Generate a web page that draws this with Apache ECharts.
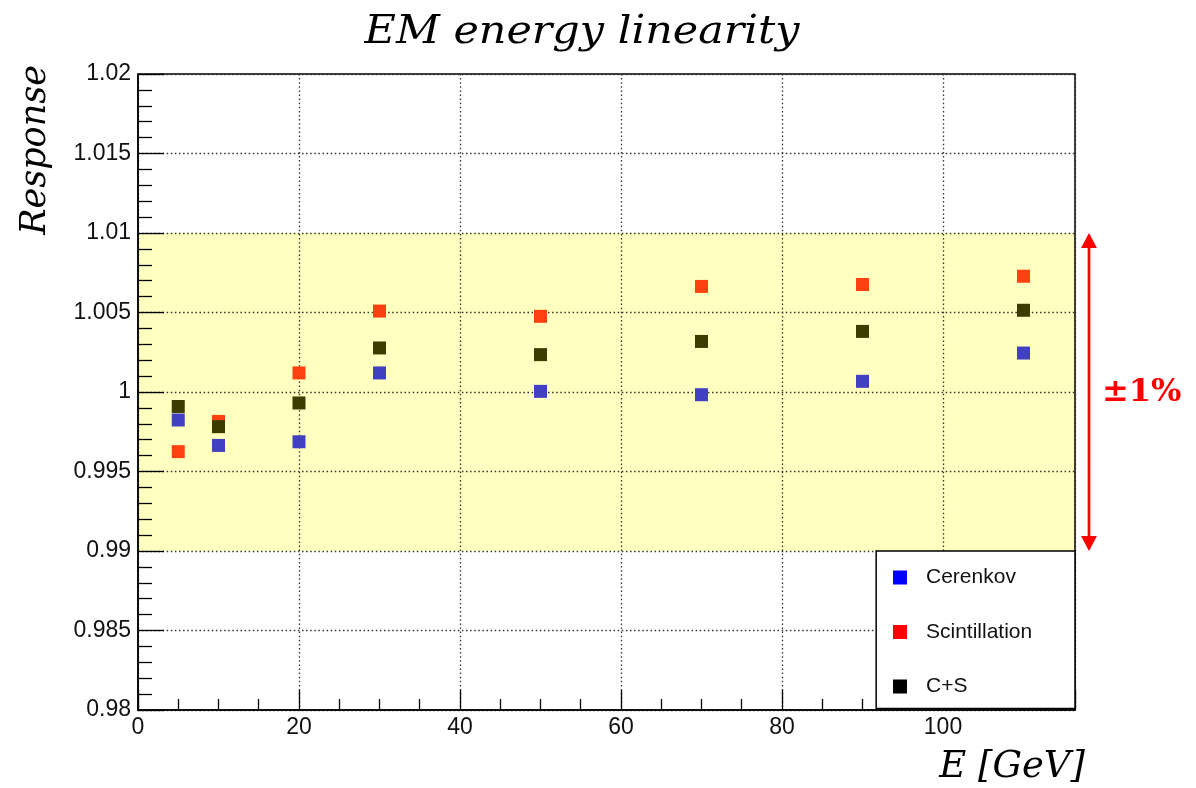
<!DOCTYPE html>
<html><head><meta charset="utf-8">
<script src="https://cdn.jsdelivr.net/npm/echarts@6/dist/echarts.min.js"></script>
<style>html,body{margin:0;padding:0;background:#fff}#c{width:1196px;height:788px}</style>
</head><body><div id="c"></div>
<script>
// ---- data ----
const energies = [5, 10, 20, 30, 50, 70, 90, 110];
const cerenkov = [0.99824, 0.99664, 0.99687, 1.00120, 1.00004, 0.99983, 1.00067, 1.00245];
const scintillation = [0.99625, 0.99815, 1.00120, 1.00509, 1.00476, 1.00664, 1.00676, 1.00728];
const combined = [0.99909, 0.99782, 0.99931, 1.00277, 1.00235, 1.00318, 1.00381, 1.00514];
const seriesNames = ['Cerenkov', 'Scintillation', 'C+S'];
const bandRange = [0.99, 1.01];
const bandLabel = '\u00B11%';
const titleText = 'EM energy linearity';
const yName = 'Response';
const xName = 'E [GeV]';
const xRange = [0, 116.4];
const yRange = [0.98, 1.02];

// ---- styles ----
const markerColors = ['#4040c0', '#ff4010', '#3c3c00'];
const legendColors = ['#0000ff', '#ff0000', '#000000'];
const sansFont = 'Liberation Sans';
const serifFont = 'DejaVu Serif';

const zip = (xs, ys) => xs.map((x, i) => [x, ys[i]]);
const chart = echarts.init(document.getElementById('c'), null, {renderer: 'canvas'});

const gridLine = {show: true, lineStyle: {color: '#333', width: 1.3, type: [1.5, 2.6]}};

chart.setOption({
  animation: false,
  backgroundColor: '#fff',
  grid: {left: 138, right: 121, top: 74, bottom: 78, show: true, borderColor: '#000', borderWidth: 1.5, backgroundColor: 'transparent'},
  xAxis: {
    type: 'value', min: xRange[0], max: xRange[1], interval: 20,
    axisLine: {show: true, lineStyle: {color: '#000', width: 1.5}},
    axisTick: {show: true, inside: true, length: 20, lineStyle: {color: '#000', width: 1.3}},
    minorTick: {show: true, splitNumber: 4, length: 11, lineStyle: {color: '#000', width: 1.3}},
    splitLine: gridLine,
    axisLabel: {color: '#111', fontFamily: sansFont, fontSize: 23, margin: 6, showMaxLabel: false,
      formatter: v => (Math.abs(v - xRange[1]) < 1e-6 ? '' : String(Math.round(v)))}
  },
  yAxis: {
    type: 'value', min: yRange[0], max: yRange[1], interval: 0.005,
    axisLine: {show: true, lineStyle: {color: '#000', width: 1.5}},
    axisTick: {show: true, inside: true, length: 26, lineStyle: {color: '#000', width: 1.3}},
    minorTick: {show: true, splitNumber: 5, length: 14, lineStyle: {color: '#000', width: 1.3}},
    splitLine: gridLine,
    axisLabel: {color: '#111', fontFamily: sansFont, fontSize: 23, margin: 7,
      formatter: v => String(+(+v).toFixed(3))}
  },
  legend: {
    show: true, orient: 'vertical', left: 893, top: 567, padding: 0, z: 20,
    itemWidth: 14, itemHeight: 14, itemGap: 33.5, icon: 'rect',
    selectedMode: false,
    textStyle: {fontFamily: sansFont, fontSize: 21, color: '#111', lineHeight: 20, padding: [0, 0, 0, 14]},
    data: seriesNames.map((n, i) => ({name: n, itemStyle: {color: legendColors[i], opacity: 1}}))
  },
  series: [
    {
      type: 'custom', name: 'band', z: -1, silent: true,
      data: [bandRange],
      renderItem: (params, api) => {
        const p1 = api.coord([xRange[0], api.value(1)]);
        const p2 = api.coord([xRange[1], api.value(0)]);
        return {type: 'rect', shape: {x: p1[0], y: p1[1], width: p2[0] - p1[0], height: p2[1] - p1[1]},
          style: {fill: '#ffffc0'}};
      }
    },
    {type: 'scatter', name: seriesNames[0], symbol: 'rect', symbolSize: 13, data: zip(energies, cerenkov), itemStyle: {color: markerColors[0], opacity: 1}, z: 3},
    {type: 'scatter', name: seriesNames[1], symbol: 'rect', symbolSize: 13, data: zip(energies, scintillation), itemStyle: {color: markerColors[1], opacity: 1}, z: 3},
    {type: 'scatter', name: seriesNames[2], symbol: 'rect', symbolSize: 13, data: zip(energies, combined), itemStyle: {color: markerColors[2], opacity: 1}, z: 4}
  ]
});

// ---- annotations positioned through the axes ----
const yTop = chart.convertToPixel({yAxisIndex: 0}, bandRange[1]);
const yBot = chart.convertToPixel({yAxisIndex: 0}, bandRange[0]);
const yMinPx = chart.convertToPixel({yAxisIndex: 0}, yRange[0]);
const xRightPx = chart.convertToPixel({xAxisIndex: 0}, xRange[1]);
const legendLeftPx = chart.convertToPixel({xAxisIndex: 0}, 91.7);
const arrowX = xRightPx + 14;
const head = 15, hw = 8;

chart.setOption({
  graphic: [
    {type: 'rect', z: 10, shape: {x: legendLeftPx, y: yBot, width: xRightPx - legendLeftPx, height: yMinPx - yBot - 1.5},
      style: {fill: '#fff', stroke: '#000', lineWidth: 1.5}},
    {type: 'line', z: 10, shape: {x1: arrowX, y1: yTop + head - 2, x2: arrowX, y2: yBot - head + 2}, style: {stroke: '#ff0000', lineWidth: 2.7}},
    {type: 'polygon', z: 10, shape: {points: [[arrowX, yTop], [arrowX - hw, yTop + head], [arrowX + hw, yTop + head]]}, style: {fill: '#ff0000'}},
    {type: 'polygon', z: 10, shape: {points: [[arrowX, yBot], [arrowX - hw, yBot - head], [arrowX + hw, yBot - head]]}, style: {fill: '#ff0000'}},
    {type: 'text', z: 10, x: arrowX + 13, y: (yTop + yBot) / 2 + 1,
      style: {text: bandLabel, fontFamily: serifFont, fontWeight: 'bold', fontSize: 32, fill: '#ff0000', align: 'left', verticalAlign: 'middle'}},
    {type: 'text', z: 10, x: 582, y: 33, scaleX: 1.1,
      style: {text: titleText, fontFamily: serifFont, fontStyle: 'italic', fontSize: 39, fill: '#000', align: 'center', verticalAlign: 'middle'}},
    {type: 'text', z: 10, x: 36, y: 150, rotation: Math.PI / 2,
      style: {text: yName, fontFamily: serifFont, fontStyle: 'italic', fontSize: 35, fill: '#000', align: 'center', verticalAlign: 'middle'}},
    {type: 'text', z: 10, x: 1085, y: 767,
      style: {text: xName, fontFamily: serifFont, fontStyle: 'italic', fontSize: 37, fill: '#000', align: 'right', verticalAlign: 'middle'}}
  ]
});
</script>
</body></html>
